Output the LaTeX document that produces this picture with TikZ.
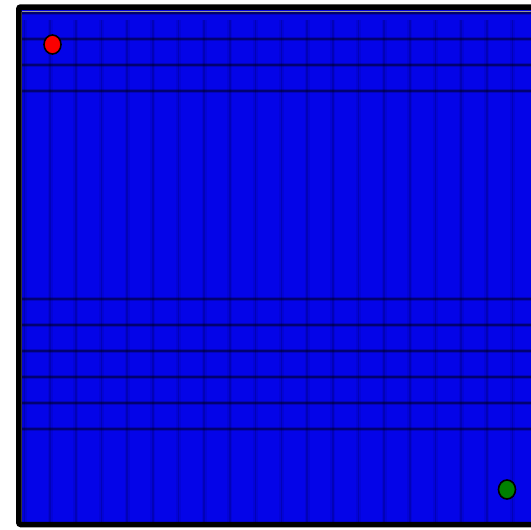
\documentclass[tikz,border=0pt]{standalone}
\usetikzlibrary{positioning,shapes.geometric}
\definecolor{mapblue}{RGB}{4,4,232}
\definecolor{startred}{RGB}{250,0,0}
\definecolor{goalgreen}{RGB}{0,128,0}
\definecolor{framegray}{RGB}{150,150,150}
\begin{document}
\begin{tikzpicture}[x=1pt,y=-1pt,
    dot/.style={ellipse,draw=black,line width=1.6pt,minimum width=17pt,minimum height=19pt,inner sep=0pt},
    colglow/.style={black,opacity=0.07,line width=5pt},
    colline/.style={black,opacity=0.15,line width=1.6pt},
    rowglow/.style={black,opacity=0.18,line width=3.5pt},
    rowline/.style={black,opacity=0.4,line width=1.2pt}]
  \useasboundingbox (0,0) rectangle (531,530);
  \clip (0,0) rectangle (531,530);
  % map area
  \fill[mapblue] (21,10) rectangle (560,524);
  \foreach \k in {0,...,19} {
    \draw[colglow] ({24.3+25.7*\k},20) -- ({24.3+25.7*\k},524);
    \draw[colline] ({24.3+25.7*\k},20) -- ({24.3+25.7*\k},524);
  }
  \foreach \r in {0,1,2,3,11,12,13,14,15,16} {
    \draw[rowglow] (21,{13+26*\r}) -- (560,{13+26*\r});
    \draw[rowline] (21,{13+26*\r}) -- (560,{13+26*\r});
  }
  % frame
  \draw[framegray,line width=1pt] (21.5,11.5) -- (560,11.5);
  \draw[framegray,line width=1pt] (21.5,11.5) -- (21.5,522);
  \draw[black,line width=5.5pt,rounded corners=2pt] (560,7) -- (18.8,7) -- (18.8,524.5) -- (560,524.5);
  % start and goal
  \node[dot,fill=startred] (start) at (52.5,44.5) {};
  \node[dot,fill=goalgreen] (goal) at (507,489.5) {};
\end{tikzpicture}
\end{document}
